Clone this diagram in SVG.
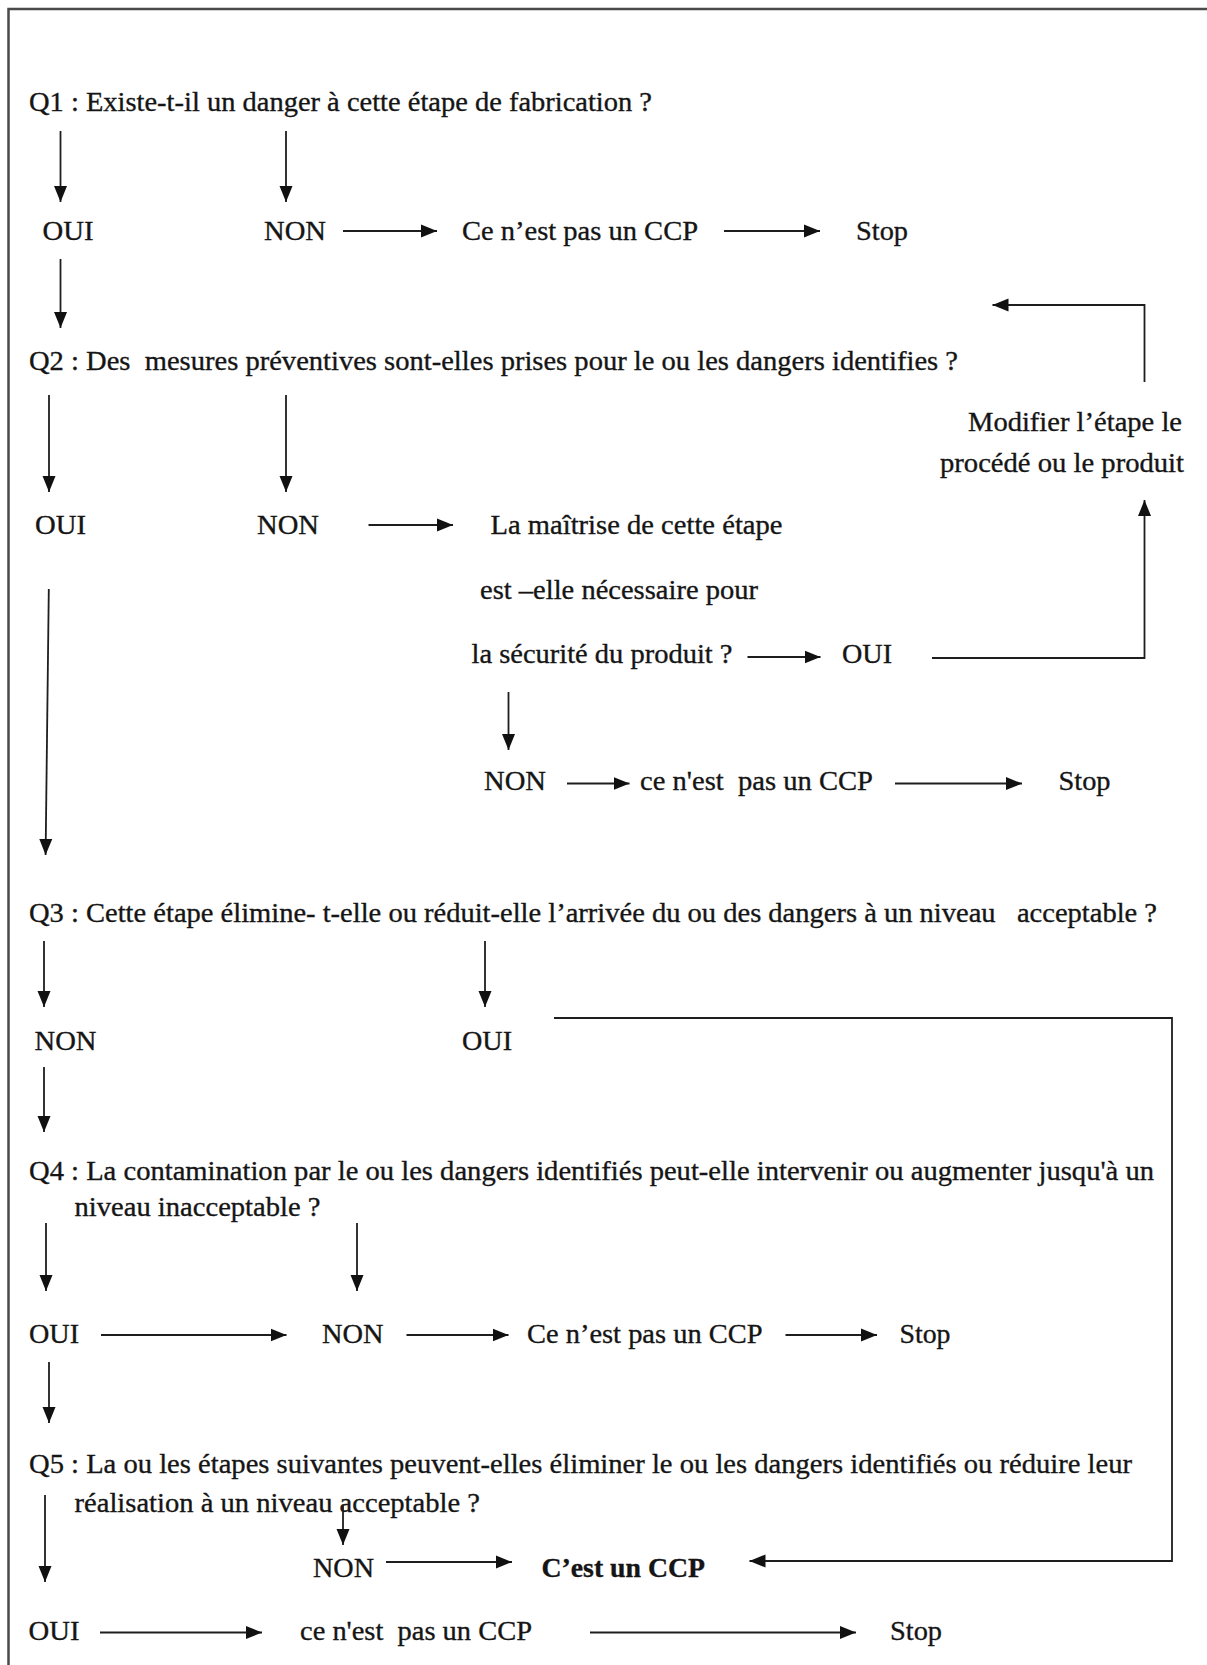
<svg xmlns="http://www.w3.org/2000/svg" width="1207" height="1665" viewBox="0 0 1207 1665">
  <style>
    .t { font-family: "Liberation Serif", "Times New Roman", serif; font-size: 28px; fill: #151515; stroke: #151515; stroke-width: 0.35; }
    .b { font-weight: bold; }
    .ln { fill: none; stroke: #1e1e1e; stroke-width: 1.8; }
    .arr { marker-end: url(#head); }
    .frame { fill: none; stroke: #4a4a4a; stroke-width: 2.5; }
  </style>
  <defs>
    <marker id="head" markerUnits="userSpaceOnUse" markerWidth="17" markerHeight="15" refX="16" refY="7.5" orient="auto">
      <path d="M0,1 L16,7.5 L0,14 z" fill="#111"/>
    </marker>
  </defs>
  <rect width="1207" height="1665" fill="#fff"/>

  <!-- page frame: top and left edges -->
  <path class="frame" d="M8.5,1665 L8.5,9 L1207,9"/>

  <!-- decision questions -->
  <g id="q1"><text class="t" x="29" y="111" textLength="623" lengthAdjust="spacingAndGlyphs">Q1 : Existe-t-il un danger à cette étape de fabrication ?</text></g>
  <g id="q1-oui"><text class="t" x="42.5" y="240" textLength="51" lengthAdjust="spacingAndGlyphs">OUI</text></g>
  <g id="q1-non"><text class="t" x="264" y="240" textLength="62" lengthAdjust="spacingAndGlyphs">NON</text></g>
  <g id="q1-notccp"><text class="t" x="462" y="240" textLength="236" lengthAdjust="spacingAndGlyphs">Ce n’est pas un CCP</text></g>
  <g id="q1-stop"><text class="t" x="856" y="240" textLength="52" lengthAdjust="spacingAndGlyphs">Stop</text></g>

  <g id="q2"><text class="t" x="29" y="370" textLength="929" lengthAdjust="spacingAndGlyphs" xml:space="preserve">Q2 : Des  mesures préventives sont-elles prises pour le ou les dangers identifies ?</text></g>
  <g id="modify">
    <text class="t" x="968" y="431" textLength="214" lengthAdjust="spacingAndGlyphs">Modifier l’étape le</text>
    <text class="t" x="940" y="472" textLength="244" lengthAdjust="spacingAndGlyphs">procédé ou le produit</text>
  </g>
  <g id="q2-oui"><text class="t" x="35" y="534" textLength="51" lengthAdjust="spacingAndGlyphs">OUI</text></g>
  <g id="q2-non"><text class="t" x="257" y="534" textLength="62" lengthAdjust="spacingAndGlyphs">NON</text></g>
  <g id="q2b">
    <text class="t" x="490.5" y="534" textLength="292" lengthAdjust="spacingAndGlyphs">La maîtrise de cette étape</text>
    <text class="t" x="480" y="599" textLength="278" lengthAdjust="spacingAndGlyphs">est –elle nécessaire pour</text>
    <text class="t" x="471.5" y="663" textLength="261" lengthAdjust="spacingAndGlyphs">la sécurité du produit ?</text>
  </g>
  <g id="q2b-oui"><text class="t" x="842" y="663" textLength="50" lengthAdjust="spacingAndGlyphs">OUI</text></g>
  <g id="q2b-non"><text class="t" x="484" y="790" textLength="62" lengthAdjust="spacingAndGlyphs">NON</text></g>
  <g id="q2b-notccp"><text class="t" x="640" y="790" textLength="233" lengthAdjust="spacingAndGlyphs" xml:space="preserve">ce n'est  pas un CCP</text></g>
  <g id="q2b-stop"><text class="t" x="1058.5" y="790" textLength="52" lengthAdjust="spacingAndGlyphs">Stop</text></g>

  <g id="q3"><text class="t" x="29" y="922" textLength="1128" lengthAdjust="spacingAndGlyphs" xml:space="preserve">Q3 : Cette étape élimine- t-elle ou réduit-elle l’arrivée du ou des dangers à un niveau   acceptable ?</text></g>
  <g id="q3-non"><text class="t" x="34.5" y="1050" textLength="62" lengthAdjust="spacingAndGlyphs">NON</text></g>
  <g id="q3-oui"><text class="t" x="462" y="1050" textLength="50" lengthAdjust="spacingAndGlyphs">OUI</text></g>

  <g id="q4">
    <text class="t" x="29" y="1180" textLength="1125" lengthAdjust="spacingAndGlyphs">Q4 : La contamination par le ou les dangers identifiés peut-elle intervenir ou augmenter jusqu'à un</text>
    <text class="t" x="74.5" y="1216" textLength="246" lengthAdjust="spacingAndGlyphs">niveau inacceptable ?</text>
  </g>
  <g id="q4-oui"><text class="t" x="29" y="1343" textLength="50" lengthAdjust="spacingAndGlyphs">OUI</text></g>
  <g id="q4-non"><text class="t" x="322" y="1343" textLength="61.5" lengthAdjust="spacingAndGlyphs">NON</text></g>
  <g id="q4-notccp"><text class="t" x="527" y="1343" textLength="235.5" lengthAdjust="spacingAndGlyphs">Ce n’est pas un CCP</text></g>
  <g id="q4-stop"><text class="t" x="899.5" y="1343" textLength="51" lengthAdjust="spacingAndGlyphs">Stop</text></g>

  <g id="q5">
    <text class="t" x="29" y="1473" textLength="1103" lengthAdjust="spacingAndGlyphs">Q5 : La ou les étapes suivantes peuvent-elles éliminer le ou les dangers identifiés ou réduire leur</text>
    <text class="t" x="74.5" y="1512" textLength="405.5" lengthAdjust="spacingAndGlyphs">réalisation à un niveau acceptable ?</text>
  </g>
  <g id="q5-non"><text class="t" x="313" y="1577" textLength="61" lengthAdjust="spacingAndGlyphs">NON</text></g>
  <g id="ccp"><text class="t b" x="541.5" y="1577" textLength="163.5" lengthAdjust="spacingAndGlyphs">C’est un CCP</text></g>
  <g id="q5-oui"><text class="t" x="28.5" y="1640" textLength="51" lengthAdjust="spacingAndGlyphs">OUI</text></g>
  <g id="q5-notccp"><text class="t" x="300" y="1640" textLength="232" lengthAdjust="spacingAndGlyphs" xml:space="preserve">ce n'est  pas un CCP</text></g>
  <g id="q5-stop"><text class="t" x="890" y="1640" textLength="52" lengthAdjust="spacingAndGlyphs">Stop</text></g>

  <!-- connectors -->
  <g id="connectors">
    <!-- Q1 -->
    <path class="ln arr" d="M60.5,131 L60.5,202"/>
    <path class="ln arr" d="M286,131 L286,202"/>
    <path class="ln arr" d="M343,231 L437,231"/>
    <path class="ln arr" d="M724,231 L820,231"/>
    <path class="ln arr" d="M60.5,259 L60.5,328"/>
    <!-- Q2 -->
    <path class="ln arr" d="M49,395 L49,492"/>
    <path class="ln arr" d="M286,395 L286,492"/>
    <path class="ln arr" d="M368.5,525 L453,525"/>
    <path class="ln arr" d="M747.5,657 L820.5,657"/>
    <path class="ln arr" d="M932,658 L1144.5,658 L1144.5,500"/>
    <path class="ln arr" d="M1144.5,382 L1144.5,305 L992.5,305"/>
    <path class="ln arr" d="M508.5,692 L508.5,750"/>
    <path class="ln arr" d="M567,783.5 L629.5,783.5"/>
    <path class="ln arr" d="M895,783.5 L1022,783.5"/>
    <path class="ln arr" d="M48.8,589 L45.6,855"/>
    <!-- Q3 -->
    <path class="ln arr" d="M44,941 L44,1007"/>
    <path class="ln arr" d="M485,941 L485,1007"/>
    <path class="ln arr" d="M554,1018 L1172,1018 L1172,1561 L749.5,1561"/>
    <path class="ln arr" d="M44,1067 L44,1132"/>
    <!-- Q4 -->
    <path class="ln arr" d="M46,1223 L46,1291"/>
    <path class="ln arr" d="M357,1223 L357,1291"/>
    <path class="ln arr" d="M101,1335 L286.5,1335"/>
    <path class="ln arr" d="M406.5,1335 L508.5,1335"/>
    <path class="ln arr" d="M785.5,1335 L877,1335"/>
    <path class="ln arr" d="M49,1362 L49,1423"/>
    <!-- Q5 -->
    <path class="ln arr" d="M343,1505 L343,1545"/>
    <path class="ln arr" d="M45,1495 L45,1582"/>
    <path class="ln arr" d="M386,1562 L512,1562"/>
    <path class="ln arr" d="M100,1632.5 L262,1632.5"/>
    <path class="ln arr" d="M590,1632.5 L856,1632.5"/>
  </g>
</svg>
